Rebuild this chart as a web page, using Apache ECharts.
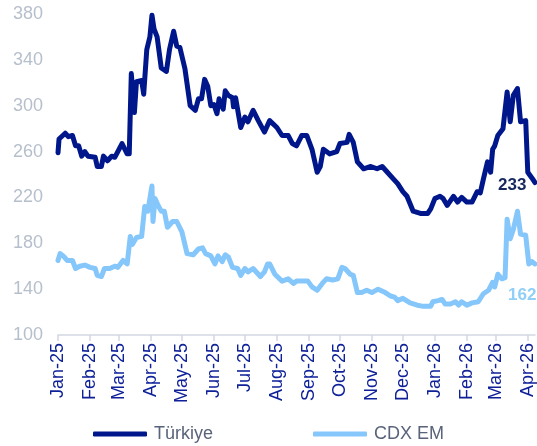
<!DOCTYPE html>
<html>
<head>
<meta charset="utf-8">
<script src="https://cdn.jsdelivr.net/npm/echarts@6/dist/echarts.min.js"></script>
<style>
	html, body { margin: 0; padding: 0; background: #fff; }
	#chart { width: 537px; height: 446px; }
</style>
</head>
<body>
<div id="chart"></div>
<script>
// Türkiye CDS (bp)
var turkiyeDates = [
	'2025-01-01', '2025-01-02', '2025-01-08', '2025-01-11', '2025-01-15', '2025-01-18', '2025-01-21', '2025-01-24',
	'2025-01-27', '2025-01-30', '2025-02-06', '2025-02-08', '2025-02-12', '2025-02-14', '2025-02-18', '2025-02-22',
	'2025-02-25', '2025-03-04', '2025-03-09', '2025-03-11', '2025-03-13', '2025-03-16', '2025-03-18', '2025-03-23',
	'2025-03-25', '2025-03-28', '2025-03-31', '2025-04-02', '2025-04-04', '2025-04-07', '2025-04-11', '2025-04-16',
	'2025-04-19', '2025-04-23', '2025-04-26', '2025-04-29', '2025-05-04', '2025-05-09', '2025-05-14', '2025-05-17',
	'2025-05-20', '2025-05-23', '2025-05-26', '2025-05-29', '2025-06-01', '2025-06-04', '2025-06-06', '2025-06-10',
	'2025-06-12', '2025-06-15', '2025-06-19', '2025-06-20', '2025-06-22', '2025-06-27', '2025-07-01', '2025-07-04',
	'2025-07-09', '2025-07-14', '2025-07-20', '2025-07-25', '2025-08-01', '2025-08-06', '2025-08-12', '2025-08-16',
	'2025-08-20', '2025-08-25', '2025-08-30', '2025-09-04', '2025-09-09', '2025-09-12', '2025-09-15', '2025-09-21',
	'2025-09-28', '2025-10-01', '2025-10-08', '2025-10-10', '2025-10-14', '2025-10-18', '2025-10-24', '2025-10-31',
	'2025-11-06', '2025-11-11', '2025-11-16', '2025-11-22', '2025-11-26', '2025-12-01', '2025-12-05', '2025-12-11',
	'2025-12-18', '2025-12-25', '2025-12-28', '2026-01-01', '2026-01-06', '2026-01-09', '2026-01-13', '2026-01-19',
	'2026-01-23', '2026-01-27', '2026-02-01', '2026-02-06', '2026-02-11', '2026-02-14', '2026-02-17', '2026-02-21',
	'2026-02-24', '2026-02-26', '2026-02-28', '2026-03-03', '2026-03-08', '2026-03-12', '2026-03-15', '2026-03-18',
	'2026-03-22', '2026-03-25', '2026-03-30', '2026-04-01', '2026-04-05', '2026-04-08'
];
var turkiyeValues = [
	259, 271, 276, 273, 274, 265, 265, 256,
	260, 256, 255, 247, 247, 256, 252, 256,
	255, 267, 258, 258, 328, 294, 321, 322,
	310, 349, 360, 379, 367, 360, 333, 330,
	349, 365, 352, 351, 332, 300, 296, 306,
	306, 323, 317, 300, 301, 293, 306, 297,
	313, 309, 307, 299, 307, 281, 290, 286,
	296, 287, 277, 287, 281, 274, 274, 267,
	265, 274, 274, 262, 242, 247, 262, 258,
	260, 267, 268, 275, 268, 251, 245, 247,
	245, 247, 242, 236, 232, 225, 221, 208,
	206, 206, 210, 219, 221, 219, 213, 221,
	216, 220, 216, 216, 225, 224, 236, 251,
	242, 262, 265, 274, 280, 312, 286, 309,
	315, 286, 287, 242, 237, 233
];

// CDX EM (bp)
var cdxDates = [
	'2025-01-01', '2025-01-03', '2025-01-06', '2025-01-10', '2025-01-15', '2025-01-18', '2025-01-22', '2025-01-27',
	'2025-02-01', '2025-02-06', '2025-02-08', '2025-02-12', '2025-02-15', '2025-02-20', '2025-02-25', '2025-02-28',
	'2025-03-05', '2025-03-09', '2025-03-12', '2025-03-14', '2025-03-18', '2025-03-23', '2025-03-26', '2025-03-29',
	'2025-04-02', '2025-04-03', '2025-04-05', '2025-04-08', '2025-04-11', '2025-04-14', '2025-04-17', '2025-04-22',
	'2025-04-26', '2025-05-01', '2025-05-06', '2025-05-12', '2025-05-17', '2025-05-21', '2025-05-24', '2025-05-29',
	'2025-06-02', '2025-06-05', '2025-06-09', '2025-06-12', '2025-06-15', '2025-06-19', '2025-06-24', '2025-06-27',
	'2025-07-01', '2025-07-04', '2025-07-09', '2025-07-16', '2025-07-20', '2025-07-23', '2025-07-25', '2025-07-30',
	'2025-08-06', '2025-08-12', '2025-08-17', '2025-08-20', '2025-08-26', '2025-08-31', '2025-09-04', '2025-09-09',
	'2025-09-14', '2025-09-18', '2025-09-24', '2025-09-29', '2025-10-03', '2025-10-06', '2025-10-11', '2025-10-14',
	'2025-10-18', '2025-10-22', '2025-10-27', '2025-11-01', '2025-11-07', '2025-11-14', '2025-11-19', '2025-11-23',
	'2025-11-26', '2025-12-01', '2025-12-08', '2025-12-15', '2025-12-21', '2025-12-28', '2025-12-30', '2026-01-04',
	'2026-01-08', '2026-01-11', '2026-01-16', '2026-01-21', '2026-01-24', '2026-01-27', '2026-02-01', '2026-02-06',
	'2026-02-12', '2026-02-17', '2026-02-22', '2026-02-26', '2026-02-28', '2026-03-03', '2026-03-07', '2026-03-10',
	'2026-03-12', '2026-03-15', '2026-03-18', '2026-03-22', '2026-03-25', '2026-03-30', '2026-04-02', '2026-04-05',
	'2026-04-08'
];
var cdxValues = [
	165, 171, 169, 165, 165, 158, 160, 161,
	159, 158, 152, 151, 158, 158, 160, 159,
	165, 162, 186, 179, 185, 186, 212, 208,
	230, 199, 219, 213, 208, 208, 194, 199,
	199, 190, 171, 170, 175, 176, 171, 169,
	162, 169, 164, 170, 168, 159, 158, 152,
	158, 155, 158, 151, 155, 162, 162, 153,
	147, 149, 145, 147, 147, 147, 142, 139,
	145, 149, 148, 149, 159, 158, 153, 152,
	137, 137, 139, 137, 140, 137, 134, 133,
	130, 132, 128, 126, 125, 125, 129, 130,
	131, 127, 127, 129, 126, 129, 126, 128,
	129, 136, 139, 146, 142, 153, 149, 150,
	201, 184, 192, 208, 188, 187, 162, 164,
	162
];

// month ticks on the x axis
var tickDates = [
	'2025-01-01', '2025-02-01', '2025-03-01', '2025-04-01', '2025-05-01', '2025-06-01', '2025-07-01', '2025-08-01',
	'2025-09-01', '2025-10-01', '2025-11-01', '2025-12-01', '2026-01-01', '2026-02-01', '2026-03-01', '2026-04-01'
];
var tickLabels = [
	'Jan-25', 'Feb-25', 'Mar-25', 'Apr-25', 'May-25', 'Jun-25', 'Jul-25', 'Aug-25',
	'Sep-25', 'Oct-25', 'Nov-25', 'Dec-25', 'Jan-26', 'Feb-26', 'Mar-26', 'Apr-26'
];

var toTime = function (s) {
	return echarts.number.parseDate(s).getTime();
};
var pairUp = function (dates, values) {
	var arr = [];
	for (var i = 0; i < dates.length; i++) {
		arr.push([toTime(dates[i]), values[i]]);
	}
	return arr;
};
var tickTimes = tickDates.map(toTime);

var chart = echarts.init(document.getElementById('chart'), null, { renderer: 'canvas' });
var fontFamily = 'Liberation Sans, Arial, sans-serif';

var option = {
	animation: false,
	color: ['#00178c', '#85c6fb'],
	grid: {
		left: 58,
		right: 2,
		top: 14,
		bottom: 111
	},
	legend: {
		top: 420,
		left: 'center',
		itemWidth: 54,
		itemHeight: 5,
		itemGap: 100,
		icon: 'roundRect',
		textStyle: {
			color: '#59637a',
			fontSize: 18,
			fontFamily: fontFamily,
			padding: [0, 0, 0, 2]
		},
		data: ['Türkiye', 'CDX EM']
	},
	// time values on a value axis so the month ticks can be set exactly
	xAxis: {
		type: 'value',
		min: toTime('2025-01-01'),
		max: toTime('2026-04-08'),
		splitLine: { show: false },
		axisLine: { lineStyle: { color: '#d3d8e2', width: 1.5 } },
		axisTick: {
			show: true,
			length: 6,
			customValues: tickTimes,
			lineStyle: { color: '#d3d8e2', width: 1.5 }
		},
		axisLabel: {
			rotate: 90,
			margin: 8,
			color: '#0e2199',
			fontSize: 18,
			fontFamily: fontFamily,
			hideOverlap: false,
			customValues: tickTimes,
			formatter: function (val) {
				var idx = tickTimes.indexOf(val);
				return idx >= 0 ? tickLabels[idx] : '';
			}
		}
	},
	yAxis: {
		type: 'value',
		min: 100,
		max: 380,
		interval: 40,
		splitLine: { show: false },
		axisLine: { show: false },
		axisTick: { show: false },
		axisLabel: {
			margin: 15,
			color: '#b6bfcc',
			fontSize: 18,
			fontFamily: fontFamily
		}
	},
	series: [{
		name: 'Türkiye',
		type: 'line',
		data: pairUp(turkiyeDates, turkiyeValues),
		showSymbol: false,
		z: 3,
		lineStyle: { width: 5, join: 'round', cap: 'round' },
		endLabel: {
			show: true,
			offset: [-45, 3],
			color: '#16275e',
			fontSize: 17,
			fontWeight: 'bold',
			fontFamily: fontFamily,
			formatter: function (p) { return p.value[1]; }
		}
	}, {
		name: 'CDX EM',
		type: 'line',
		data: pairUp(cdxDates, cdxValues),
		showSymbol: false,
		z: 2,
		lineStyle: { width: 5, join: 'round', cap: 'round' },
		endLabel: {
			show: true,
			offset: [-35, 31],
			color: '#8fcff8',
			fontSize: 17,
			fontWeight: 'bold',
			fontFamily: fontFamily,
			formatter: function (p) { return p.value[1]; }
		}
	}]
};
chart.setOption(option);
</script>
</body>
</html>
